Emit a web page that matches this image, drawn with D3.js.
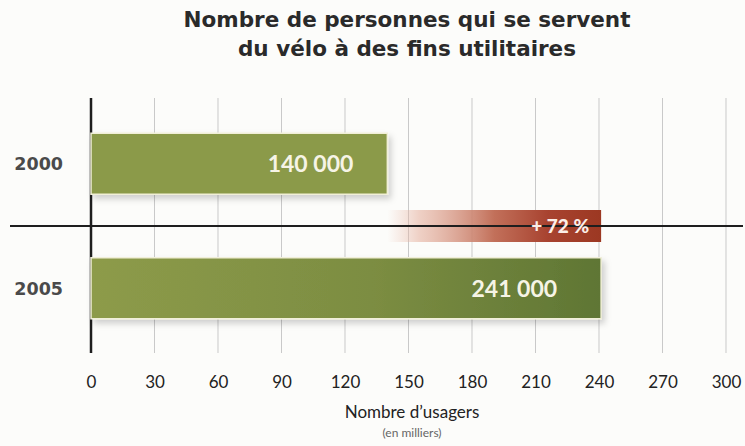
<!DOCTYPE html>
<html>
<head>
<meta charset="utf-8">
<script src="https://cdn.jsdelivr.net/npm/d3@7"></script>
<style>
  body { margin: 0; background: #fcfcfa; }
  svg { display: block; }
</style>
</head>
<body>
<script>
// data
var years = ["2000", "2005"];
var users = [140, 241];            // en milliers
var userLabels = ["140 000", "241 000"];
var growthLabel = "+ 72 %";
var ticks = [0, 30, 60, 90, 120, 150, 180, 210, 240, 270, 300];
var titleLines = ["Nombre de personnes qui se servent", "du vélo à des fins utilitaires"];

var width = 745, height = 446;

var svg = d3.select("body").append("svg")
  .attr("width", width)
  .attr("height", height);

var x = d3.scaleLinear().domain([0, 300]).range([91, 726]);
var y = d3.scaleBand().domain(years).range([71, 381])
  .paddingInner(0.51).paddingOuter(0.5);

var defs = svg.append("defs");

var g2005 = defs.append("linearGradient").attr("id", "green2005");
g2005.append("stop").attr("offset", "0%").attr("stop-color", "#8d9b49");
g2005.append("stop").attr("offset", "55%").attr("stop-color", "#7c8d42");
g2005.append("stop").attr("offset", "100%").attr("stop-color", "#5f7634");

var gRed = defs.append("linearGradient").attr("id", "redGrow");
gRed.append("stop").attr("offset", "0%").attr("stop-color", "#e9b9a8").attr("stop-opacity", 0);
gRed.append("stop").attr("offset", "15%").attr("stop-color", "#e6b3a2").attr("stop-opacity", 0.6);
gRed.append("stop").attr("offset", "50%").attr("stop-color", "#c2705a");
gRed.append("stop").attr("offset", "75%").attr("stop-color", "#a84330");
gRed.append("stop").attr("offset", "100%").attr("stop-color", "#9c3822");

var shadow = defs.append("filter").attr("id", "shadow")
  .attr("x", "-5%").attr("y", "-20%").attr("width", "115%").attr("height", "150%");
shadow.append("feDropShadow")
  .attr("dx", 3).attr("dy", 4).attr("stdDeviation", 3)
  .attr("flood-color", "#000").attr("flood-opacity", 0.18);

// title
svg.append("g").selectAll("text")
  .data(titleLines)
  .enter().append("text")
  .attr("x", 407)
  .attr("y", function(d, i) { return 27 + i * 29; })
  .attr("text-anchor", "middle")
  .style("font-family", "'DejaVu Sans', sans-serif")
  .style("font-weight", 700)
  .style("font-size", "21.5px")
  .style("fill", "#2a2a2a")
  .text(function(d) { return d; });

// grid
svg.append("g").selectAll("line")
  .data(ticks.slice(1))
  .enter().append("line")
  .attr("x1", function(d) { return x(d); })
  .attr("x2", function(d) { return x(d); })
  .attr("y1", 98)
  .attr("y2", 353)
  .style("stroke", "#c9c9c9")
  .style("stroke-width", 1);

// vertical zero line
svg.append("line")
  .attr("x1", x(0)).attr("x2", x(0))
  .attr("y1", 98).attr("y2", 353)
  .style("stroke", "#1e1e1e")
  .style("stroke-width", 2.5);

// growth bar between the two years
var midY = (y("2000") + y.bandwidth() + y("2005")) / 2;
svg.append("rect")
  .attr("x", x(users[0]))
  .attr("y", midY - 16)
  .attr("width", x(users[1]) - x(users[0]))
  .attr("height", 32)
  .style("fill", "url(#redGrow)");

// horizontal line
svg.append("line")
  .attr("x1", 10).attr("x2", 743)
  .attr("y1", midY).attr("y2", midY)
  .style("stroke", "#1e1e1e")
  .style("stroke-width", 2);

svg.append("text")
  .attr("x", x(users[1]) - 12)
  .attr("y", midY)
  .attr("dy", "0.36em")
  .attr("text-anchor", "end")
  .style("font-family", "Lato, sans-serif")
  .style("font-weight", 900)
  .style("font-size", "19px")
  .style("fill", "#fbeee8")
  .text(growthLabel);

// bars
svg.append("g").selectAll("rect")
  .data(years)
  .enter().append("rect")
  .attr("x", x(0))
  .attr("y", function(d) { return y(d); })
  .attr("width", function(d, i) { return x(users[i]) - x(0); })
  .attr("height", y.bandwidth())
  .style("fill", function(d, i) { return i === 0 ? "#8b9a48" : "url(#green2005)"; })
  .style("stroke", "#f1efd8")
  .style("stroke-width", 1.5)
  .attr("filter", "url(#shadow)");

svg.append("g").selectAll("text")
  .data(years)
  .enter().append("text")
  .attr("x", function(d, i) { return x(users[i]) - (i === 0 ? 34 : 44); })
  .attr("y", function(d) { return y(d) + y.bandwidth() / 2; })
  .attr("dy", "0.36em")
  .attr("text-anchor", "end")
  .style("font-family", "Lato, sans-serif")
  .style("font-weight", 700)
  .style("font-size", "23px")
  .style("fill", "#f6f4e6")
  .text(function(d, i) { return userLabels[i]; });

// year labels
svg.append("g").selectAll("text")
  .data(years)
  .enter().append("text")
  .attr("x", 63)
  .attr("y", function(d) { return y(d) + y.bandwidth() / 2; })
  .attr("dy", "0.36em")
  .attr("text-anchor", "end")
  .style("font-family", "'DejaVu Sans', sans-serif")
  .style("font-weight", 700)
  .style("font-size", "17.5px")
  .style("fill", "#4a4a4a")
  .text(function(d) { return d; });

// x axis labels
var xAxis = d3.axisBottom(x).tickValues(ticks).tickSize(0).tickPadding(0);
var axisG = svg.append("g")
  .attr("transform", "translate(0,376)")
  .call(xAxis);
axisG.select(".domain").remove();
axisG.selectAll("text")
  .style("font-family", "Lato, sans-serif")
  .style("font-size", "17px")
  .style("fill", "#222");

svg.append("text")
  .attr("x", 412).attr("y", 418)
  .attr("text-anchor", "middle")
  .style("font-family", "Lato, sans-serif")
  .style("font-size", "17px")
  .style("fill", "#222")
  .text("Nombre d\u2019usagers");

svg.append("text")
  .attr("x", 412).attr("y", 437)
  .attr("text-anchor", "middle")
  .style("font-family", "Lato, sans-serif")
  .style("font-size", "12px")
  .style("fill", "#666")
  .text("(en milliers)");
</script>
</body>
</html>
